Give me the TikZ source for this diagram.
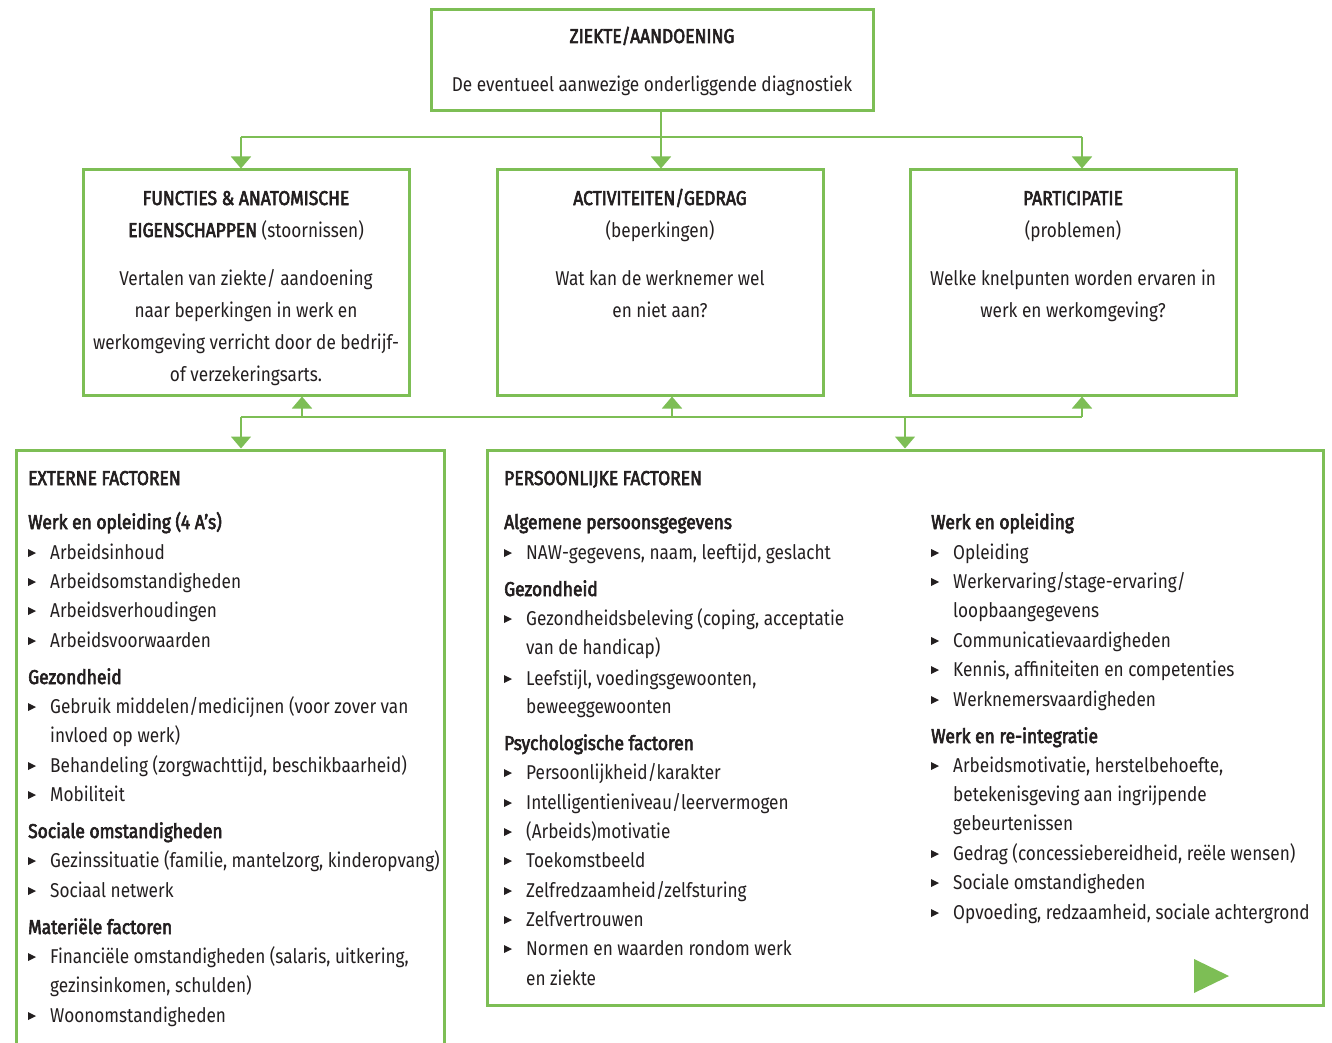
\documentclass[tikz,border=0pt]{standalone}
\usepackage{fontspec}
\setmainfont{Fira Sans}[FakeStretch=0.86]
\newfontfamily\medfont{Fira Sans}[FakeStretch=0.87, FakeBold=3]
\usetikzlibrary{arrows.meta}
\definecolor{grn}{RGB}{125,190,85}
\definecolor{ink}{RGB}{35,31,32}
\newcommand{\fsz}{\fontsize{20}{24}\selectfont}
\begin{document}
\begin{tikzpicture}[x=1pt,y=-1pt,
  box/.style={draw=grn, line width=3pt, inner sep=0pt, fill=none},
  conn/.style={draw=grn, line width=1.6pt},
  tipd/.style={-{Triangle[width=20pt,length=12pt]}},
  t/.style={anchor=base west, inner sep=0pt, font=\fsz, text=ink},
  hd/.style={t, font=\fsz\medfont},
  ct/.style={anchor=base, inner sep=0pt, font=\fsz, text=ink},
  bull/.style={fill=ink}
]
\useasboundingbox (0,0) rectangle (1332,1043);
\newcommand{\li}[4]{%
  \fill[bull] (#1,#2-10) -- (#1+8,#2-6) -- (#1,#2-2) -- cycle;
  \node[t] (#4) at (#1+22,#2) {#3};}
% boxes
\node[box, minimum width=442, minimum height=101] (top) at (652,60.5) {};
\node[box, minimum width=326, minimum height=225] (fun) at (246,282.5) {};
\node[box, minimum width=326, minimum height=225] (act) at (660,282.5) {};
\node[box, minimum width=326, minimum height=225] (par) at (1073,282.5) {};
\node[box, minimum width=428, minimum height=640] (ext) at (230,770) {};
\node[box, minimum width=836, minimum height=555] (per) at (905,727.5) {};
% top connectors
\coordinate (h1) at (241,137);
\coordinate (h2) at (661,137);
\coordinate (h3) at (1082,137);
\draw[conn] (top.south -| h2) -- (h2);
\draw[conn] (h1) -- (h3);
\draw[conn,tipd] (h1) -- (h1 |- fun.north);
\draw[conn,tipd] (h2) -- (h2 |- act.north);
\draw[conn,tipd] (h3) -- (h3 |- par.north);
% lower connectors
\coordinate (l1) at (241,417);
\coordinate (l2) at (302,417);
\coordinate (l3) at (672,417);
\coordinate (l4) at (905,417);
\coordinate (l5) at (1082,417);
\draw[conn] (l1) -- (l5);
\draw[conn,tipd] (l2) -- (l2 |- fun.south);
\draw[conn,tipd] (l3) -- (l3 |- act.south);
\draw[conn,tipd] (l5) -- (l5 |- par.south);
\draw[conn,tipd] (l1) -- (l1 |- ext.north);
\draw[conn,tipd] (l4) -- (l4 |- per.north);
% top box text
\node[ct, font=\fsz\medfont] (t1) at (652,43) {ZIEKTE/AANDOENING};
\node[ct] (t2) at (652,92) {De eventueel aanwezige onderliggende diagnostiek};
% functies
\node[ct, font=\fsz\medfont] (f1) at (246,205) {FUNCTIES \& ANATOMISCHE};
\node[ct] (f2) at (246,237) {{\medfont EIGENSCHAPPEN} (stoornissen)};
\node[ct] (f3) at (246,285) {Vertalen van ziekte/ aandoening};
\node[ct] (f4) at (246,317) {naar beperkingen in werk en};
\node[ct] (f5) at (246,349) {werkomgeving verricht door de bedrijf-};
\node[ct] (f6) at (246,381) {of verzekeringsarts.};
% activiteiten
\node[ct, font=\fsz\medfont] (a1) at (660,205) {ACTIVITEITEN/GEDRAG};
\node[ct] (a2) at (660,237) {(beperkingen)};
\node[ct] (a3) at (660,285) {Wat kan de werknemer wel};
\node[ct] (a4) at (660,317) {en niet aan?};
% participatie
\node[ct, font=\fsz\medfont] (p1) at (1073,205) {PARTICIPATIE};
\node[ct] (p2) at (1073,237) {(problemen)};
\node[ct] (p3) at (1073,285) {Welke knelpunten worden ervaren in};
\node[ct] (p4) at (1073,317) {werk en werkomgeving?};
% externe factoren
\node[hd] (e0) at (28,485) {EXTERNE FACTOREN};
\node[hd] (e1) at (28,529) {Werk en opleiding (4 A’s)};
\li{28}{559}{Arbeidsinhoud}{e2}
\li{28}{588}{Arbeidsomstandigheden}{e3}
\li{28}{617}{Arbeidsverhoudingen}{e4}
\li{28}{647}{Arbeidsvoorwaarden}{e5}
\node[hd] (e6) at (28,684) {Gezondheid};
\li{28}{713}{Gebruik middelen/medicijnen (voor zover van}{e7}
\node[t] (e8) at (50,742) {invloed op werk)};
\li{28}{772}{Behandeling (zorgwachttijd, beschikbaarheid)}{e9}
\li{28}{801}{Mobiliteit}{e10}
\node[hd] (e11) at (28,838) {Sociale omstandigheden};
\li{28}{867}{Gezinssituatie (familie, mantelzorg, kinderopvang)}{e12}
\li{28}{897}{Sociaal netwerk}{e13}
\node[hd] (e14) at (28,934) {Materiële factoren};
\li{28}{963}{Financiële omstandigheden (salaris, uitkering,}{e15}
\node[t] (e16) at (50,992) {gezinsinkomen, schulden)};
\li{28}{1022}{Woonomstandigheden}{e17}
% persoonlijke factoren
\node[hd] (q0) at (504,485) {PERSOONLIJKE FACTOREN};
\node[hd] (q1) at (504,529) {Algemene persoonsgegevens};
\li{504}{559}{NAW-gegevens, naam, leeftijd, geslacht}{q2}
\node[hd] (q3) at (504,596) {Gezondheid};
\li{504}{625}{Gezondheidsbeleving (coping, acceptatie}{q4}
\node[t] (q5) at (526,654) {van de handicap)};
\li{504}{685}{Leefstijl, voedingsgewoonten,}{q6}
\node[t] (q7) at (526,713) {beweeggewoonten};
\node[hd] (q8) at (504,750) {Psychologische factoren};
\li{504}{779}{Persoonlijkheid/karakter}{q9}
\li{504}{809}{Intelligentieniveau/leervermogen}{q10}
\li{504}{838}{(Arbeids)motivatie}{q11}
\li{504}{867}{Toekomstbeeld}{q12}
\li{504}{897}{Zelfredzaamheid/zelfsturing}{q13}
\li{504}{926}{Zelfvertrouwen}{q14}
\li{504}{955}{Normen en waarden rondom werk}{q15}
\node[t] (q16) at (526,985) {en ziekte};
% right column
\node[hd] (r0) at (931,529) {Werk en opleiding};
\li{931}{559}{Opleiding}{r1}
\li{931}{588}{Werkervaring/stage-ervaring/}{r2}
\node[t] (r3) at (953,617) {loopbaangegevens};
\li{931}{647}{Communicatievaardigheden}{r4}
\li{931}{676}{Kennis, affiniteiten en competenties}{r5}
\li{931}{706}{Werknemersvaardigheden}{r6}
\node[hd] (r7) at (931,743) {Werk en re-integratie};
\li{931}{772}{Arbeidsmotivatie, herstelbehoefte,}{r8}
\node[t] (r9) at (953,801) {betekenisgeving aan ingrijpende};
\node[t] (r10) at (953,830) {gebeurtenissen};
\li{931}{860}{Gedrag (concessiebereidheid, reële wensen)}{r11}
\li{931}{889}{Sociale omstandigheden}{r12}
\li{931}{919}{Opvoeding, redzaamheid, sociale achtergrond}{r13}
% play triangle
\fill[grn] (1194,959) -- (1229,976) -- (1194,993) -- cycle;
\end{tikzpicture}
\end{document}
